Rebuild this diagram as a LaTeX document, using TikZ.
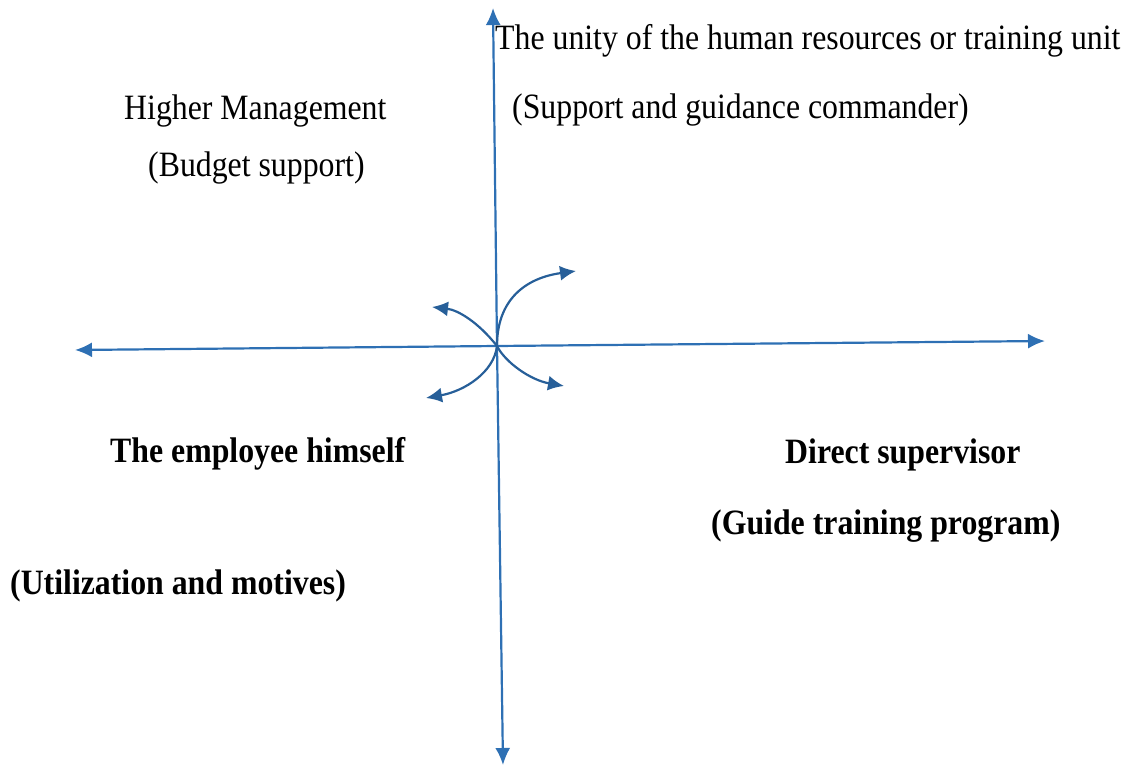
\documentclass[tikz,border=0pt]{standalone}
\usepackage{fontspec}
\usepackage{graphicx}
\usetikzlibrary{arrows.meta}
\setmainfont{Liberation Serif}
\definecolor{axisblue}{RGB}{46,112,180}
\newcommand{\tallt}[1]{\scalebox{1}[1.12]{#1}}

\begin{document}
\begin{tikzpicture}[x=1pt, y=-1pt,
            axis/.style={draw=axisblue, line width=2.2pt, -{Latex[length=17pt,width=15pt]}},
            bend arrow/.style={draw=axisblue!85!black, line width=2.2pt, -{Latex[length=16pt,width=15pt]}},
            normaltxt/.style={anchor=base west, inner sep=0pt, font=\fontsize{31.8}{38}\selectfont},
            boldtxt/.style={normaltxt, font=\fontsize{31.8}{38}\selectfont\bfseries}]

            \useasboundingbox (0,0) rectangle (1128,768);

            \coordinate (origin) at (497,346);
            \coordinate (top) at (493,8);
            \coordinate (bottom) at (503,765);
            \coordinate (left) at (75,350);
            \coordinate (right) at (1045,341);

            \coordinate (upright) at (576,271);
            \coordinate (upleft) at (432,307);
            \coordinate (downleft) at (426,398);
            \coordinate (downright) at (564,386);

            % the four quadrants
            \node [normaltxt](hrunit) at (495,50) {\tallt{The unity of the human resources or training unit}};
            \node [normaltxt](hrrole) at (512,118) {\tallt{(Support and guidance commander)}};
            \node [normaltxt](mgmt) at (124,119) {\tallt{Higher Management}};
            \node [normaltxt](mgmtrole) at (148,176) {\tallt{(Budget support)}};
            \node [boldtxt](employee) at (110,462) {\tallt{The employee himself}};
            \node [boldtxt](employeerole) at (10,594) {\tallt{(Utilization and motives)}};
            \node [boldtxt](supervisor) at (785,463) {\tallt{Direct supervisor}};
            \node [boldtxt](supervisorrole) at (711,534) {\tallt{(Guide training program)}};

            \draw[axis] (origin) -- (top);
            \draw[axis] (origin) -- (bottom);
            \draw[axis] (origin) -- (left);
            \draw[axis] (origin) -- (right);

            \draw[bend arrow] (origin) .. controls (497,300) and (525,278) .. (upright);
            \draw[bend arrow] (origin) .. controls (478,322) and (458,310) .. (upleft);
            \draw[bend arrow] (origin) .. controls (494,372) and (465,391) .. (downleft);
            \draw[bend arrow] (origin) .. controls (505,362) and (530,380) .. (downright);
        \end{tikzpicture}
\end{document}
